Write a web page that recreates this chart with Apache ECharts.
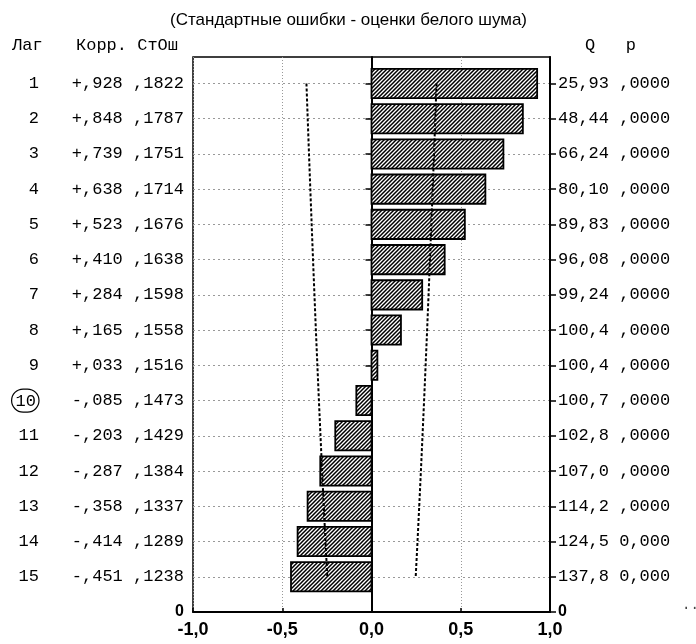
<!DOCTYPE html>
<html lang="ru">
<head>
<meta charset="UTF-8">
<title>Автокорреляционная функция</title>
<style type="text/css">
  html, body { margin: 0; padding: 0; background: #fff; }
  #chart { width: 696px; height: 644px; }
</style>
</head>
<body>
<div id="chart"></div>
<script src="https://cdn.jsdelivr.net/npm/echarts@6/dist/echarts.min.js"></script>
<script type="text/javascript">
// данные АКФ
var lags = [1, 2, 3, 4, 5, 6, 7, 8, 9, 10, 11, 12, 13, 14, 15];
var corr = [0.928, 0.848, 0.739, 0.638, 0.523, 0.410, 0.284, 0.165, 0.033,
            -0.085, -0.203, -0.287, -0.358, -0.414, -0.451];
var stErr = [0.1822, 0.1787, 0.1751, 0.1714, 0.1676, 0.1638, 0.1598, 0.1558,
             0.1516, 0.1473, 0.1429, 0.1384, 0.1337, 0.1289, 0.1238];
var qStat = [25.93, 48.44, 66.24, 80.10, 89.83, 96.08, 99.24, 100.4, 100.4,
             100.7, 102.8, 107.0, 114.2, 124.5, 137.8];
var pText = [',0000', ',0000', ',0000', ',0000', ',0000', ',0000', ',0000', ',0000',
             ',0000', ',0000', ',0000', ',0000', ',0000', '0,000', '0,000'];
var END = 16; // нижний край оси, подпись "0"

var MONO = '"Liberation Mono", "DejaVu Sans Mono", monospace';
var SANS = '"Liberation Sans Narrow", "Liberation Sans", Arial, sans-serif';

function fmtCorr(v) {
    return (v >= 0 ? '+' : '-') + ',' + Math.abs(v).toFixed(3).slice(2);
}
function fmtSe(v) { return ',' + v.toFixed(4).slice(2); }
function fmtQ(v) { return (v < 100 ? v.toFixed(2) : v.toFixed(1)).replace('.', ','); }

// штриховка столбиков
function hatch() {
    var c = document.createElement('canvas');
    c.width = 4; c.height = 4;
    var g = c.getContext('2d');
    g.fillStyle = '#fff';
    g.fillRect(0, 0, 4, 4);
    g.strokeStyle = '#000';
    g.lineWidth = 1.5;
    g.beginPath();
    g.moveTo(0, 4); g.lineTo(4, 0);
    g.moveTo(-1, 1); g.lineTo(1, -1);
    g.moveTo(3, 5); g.lineTo(5, 3);
    g.stroke();
    return c;
}
var pattern = { image: hatch(), repeat: 'repeat' };

var tickVals = lags.concat([END]);
var barData = lags.map(function (l, i) { return [corr[i], l]; });
var lowLim = lags.map(function (l, i) { return [-2 * stErr[i], l]; });
var upLim = lags.map(function (l, i) { return [2 * stErr[i], l]; });

var myChart = echarts.init(document.getElementById('chart'));

var yBase = {
    type: 'value', inverse: true, min: 0.25, max: END
};

option = {
    animation: false,
    title: {
        text: '(Стандартные ошибки - оценки белого шума)',
        left: 165, top: 7,
        textStyle: { fontFamily: SANS, fontSize: 17, fontWeight: 'normal', color: '#000' }
    },
    grid: {
        left: 193, right: 146, top: 57, bottom: 32,
        show: true, borderColor: '#000', borderWidth: 1.5
    },
    graphic: [
        { type: 'text', left: 12, top: 37, style: { text: 'Лаг', font: '17px ' + MONO, fill: '#000' } },
        { type: 'text', left: 76, top: 37, style: { text: 'Корр. СтОш', font: '17px ' + MONO, fill: '#000' } },
        { type: 'text', left: 585, top: 37, style: { text: 'Q   p', font: '17px ' + MONO, fill: '#000' } },
        { type: 'text', left: 682, top: 598, style: { text: '..', font: '14px ' + MONO, fill: '#444' } }
    ],
    xAxis: {
        type: 'value', min: -1, max: 1, interval: 0.5,
        axisLine: { show: true, lineStyle: { color: '#000', width: 2 } },
        axisTick: { show: true, inside: true, length: 4, lineStyle: { color: '#000', width: 1.5 } },
        axisLabel: {
            margin: 9, color: '#000', fontFamily: SANS, fontSize: 18, fontWeight: 'bold',
            formatter: function (v) { return v.toFixed(1).replace('.', ','); }
        },
        splitLine: { show: true, lineStyle: { color: '#999', type: [1, 2], width: 1 } }
    },
    yAxis: [
        Object.assign({}, yBase, {
            position: 'left',
            axisLine: { show: true, lineStyle: { color: '#000', width: 2 } },
            axisTick: { show: true, inside: false, length: 6, customValues: tickVals, lineStyle: { color: '#000', width: 1.5 } },
            axisLabel: {
                customValues: tickVals, margin: 9, color: '#000', fontFamily: MONO, fontSize: 17,
                formatter: function (v) {
                    if (v === END) return '{z|0}';
                    var i = v - 1;
                    return fmtCorr(corr[i]) + ' ' + fmtSe(stErr[i]);
                },
                rich: { z: { fontFamily: SANS, fontSize: 16, fontWeight: 'bold', color: '#000' } }
            },
            splitLine: { show: true, lineStyle: { color: '#999', type: [2, 3], width: 1 } }
        }),
        Object.assign({}, yBase, {
            position: 'left',
            axisLine: { show: false },
            axisTick: { show: false },
            axisLabel: {
                customValues: lags, margin: 154, color: '#000', fontFamily: MONO, fontSize: 17,
                formatter: function (v) { return v === 10 ? '{c|' + v + '}' : String(v); },
                rich: {
                    c: {
                        fontFamily: MONO, fontSize: 17, color: '#000',
                        borderColor: '#000', borderWidth: 1.2, borderRadius: 13,
                        padding: [4, 3, 2, 4]
                    }
                }
            },
            splitLine: { show: false }
        }),
        Object.assign({}, yBase, {
            position: 'right',
            axisLine: { show: true, lineStyle: { color: '#000', width: 2 } },
            axisTick: { show: true, inside: false, length: 6, customValues: tickVals, lineStyle: { color: '#000', width: 1.5 } },
            axisLabel: {
                customValues: tickVals, margin: 8, color: '#000', fontFamily: MONO, fontSize: 17,
                formatter: function (v) {
                    if (v === END) return '{z|0}';
                    var i = v - 1;
                    return fmtQ(qStat[i]) + ' ' + pText[i];
                },
                rich: { z: { fontFamily: SANS, fontSize: 16, fontWeight: 'bold', color: '#000' } }
            },
            splitLine: { show: false }
        })
    ],
    series: [
        {
            type: 'custom',
            yAxisIndex: 0,
            z: 3,
            encode: { x: 0, y: 1 },
            data: barData,
            renderItem: function (params, api) {
                var r = api.value(0), lag = api.value(1);
                var p0 = api.coord([0, lag]);
                var p1 = api.coord([r, lag]);
                var h = api.size([0, 1])[1] * 0.83;
                return {
                    type: 'rect',
                    shape: { x: Math.min(p0[0], p1[0]), y: p0[1] - h / 2, width: Math.abs(p1[0] - p0[0]), height: h },
                    style: { fill: pattern, stroke: '#000', lineWidth: 1.8 }
                };
            }
        },
        {
            type: 'line', yAxisIndex: 0, z: 5, data: lowLim, symbol: 'none',
            lineStyle: { color: '#000', width: 2, type: [3, 2] }
        },
        {
            type: 'line', yAxisIndex: 0, z: 5, data: upLim, symbol: 'none',
            lineStyle: { color: '#000', width: 2, type: [3, 2] }
        }
    ]
};

myChart.setOption(option);
</script>
</body>
</html>
